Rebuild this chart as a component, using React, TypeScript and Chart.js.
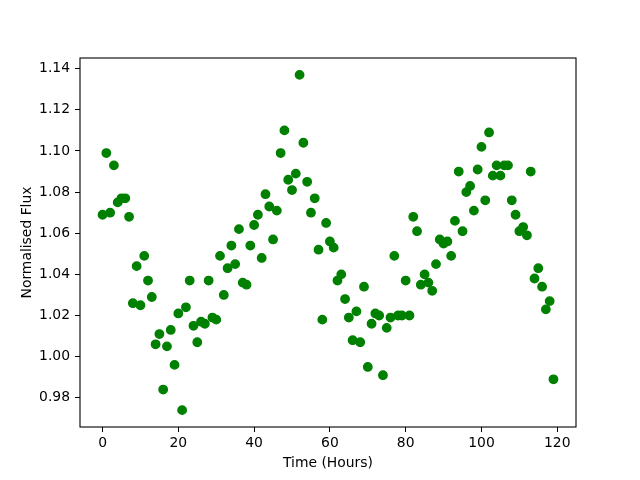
import React, { useEffect, useRef } from "react";
import { Chart, registerables } from "chart.js";

Chart.register(...registerables);

const hours: number[] = Array.from({ length: 120 }, (_, i) => i);
const flux: number[] = [
  1.069, 1.099, 1.070, 1.093, 1.075, 1.077, 1.077, 1.068, 1.026, 1.044,
  1.025, 1.049, 1.037, 1.029, 1.006, 1.011, 0.984, 1.005, 1.013, 0.996,
  1.021, 0.974, 1.024, 1.037, 1.015, 1.007, 1.017, 1.016, 1.037, 1.019,
  1.018, 1.049, 1.030, 1.043, 1.054, 1.045, 1.062, 1.036, 1.035, 1.054,
  1.064, 1.069, 1.048, 1.079, 1.073, 1.057, 1.071, 1.099, 1.110, 1.086,
  1.081, 1.089, 1.137, 1.104, 1.085, 1.070, 1.077, 1.052, 1.018, 1.065,
  1.056, 1.053, 1.037, 1.040, 1.028, 1.019, 1.008, 1.022, 1.007, 1.034,
  0.995, 1.016, 1.021, 1.020, 0.991, 1.014, 1.019, 1.049, 1.020, 1.020,
  1.037, 1.020, 1.068, 1.061, 1.035, 1.040, 1.036, 1.032, 1.045, 1.057,
  1.055, 1.056, 1.049, 1.066, 1.090, 1.061, 1.080, 1.083, 1.071, 1.091,
  1.102, 1.076, 1.109, 1.088, 1.093, 1.088, 1.093, 1.093, 1.076, 1.069,
  1.061, 1.063, 1.059, 1.090, 1.038, 1.043, 1.034, 1.023, 1.027, 0.989,
];
const xTicks: number[] = [0, 20, 40, 60, 80, 100, 120];
const yTicks: number[] = [0.98, 1.0, 1.02, 1.04, 1.06, 1.08, 1.1, 1.12, 1.14];
const xLabel = "Time (Hours)";
const yLabel = "Normalised Flux";

const FONT = { family: "'DejaVu Sans', sans-serif", size: 13.9 };

const boxPlugin = {
  id: "box",
  afterDraw(chart: any) {
    const { ctx, chartArea } = chart;
    ctx.save();
    ctx.strokeStyle = "#000";
    ctx.lineWidth = 1.1;
    ctx.strokeRect(chartArea.left, chartArea.top, chartArea.right - chartArea.left, chartArea.bottom - chartArea.top);
    ctx.restore();
  },
};

export default function App() {
  const ref = useRef<HTMLCanvasElement | null>(null);
  useEffect(() => {
    if (!ref.current) return;
    const chart = new Chart(ref.current, {
      type: "scatter",
      data: {
        datasets: [
          {
            data: hours.map((h, i) => ({ x: h, y: flux[i] })),
            backgroundColor: "#008000",
            borderColor: "#008000",
            pointRadius: 4.2,
            pointBorderWidth: 1.4,
          },
        ],
      },
      options: {
        animation: false,
        responsive: false,
        events: [],
        layout: { padding: { left: 0, top: 58, right: 64, bottom: 0 } },
        plugins: { legend: { display: false }, tooltip: { enabled: false } },
        scales: {
          x: {
            type: "linear",
            min: -5.95,
            max: 124.95,
            afterFit: (s: any) => { s.height = 53; },
            afterBuildTicks: (s: any) => { s.ticks = xTicks.map((v) => ({ value: v })); },
            grid: { display: true, drawOnChartArea: false, drawTicks: true, tickLength: 5, color: "#000", lineWidth: 1 },
            border: { display: false },
            ticks: { color: "#000", font: FONT, padding: 3, maxRotation: 0, callback: (v: any) => String(v) },
            title: { display: true, text: xLabel, color: "#000", font: FONT, padding: { top: 0, bottom: 8 } },
          },
          y: {
            type: "linear",
            min: 0.9658,
            max: 1.1452,
            afterFit: (s: any) => { s.width = 80; },
            afterBuildTicks: (s: any) => { s.ticks = yTicks.map((v) => ({ value: v })); },
            grid: { display: true, drawOnChartArea: false, drawTicks: true, tickLength: 5, color: "#000", lineWidth: 1 },
            border: { display: false },
            ticks: { color: "#000", font: FONT, padding: 5, callback: (v: any) => Number(v).toFixed(2) },
            title: { display: true, text: yLabel, color: "#000", font: FONT, padding: { top: 19, bottom: 0 } },
          },
        },
      },
      plugins: [boxPlugin],
    });
    return () => chart.destroy();
  }, []);
  return (
    <div style={{ position: "absolute", left: 0, top: 0, width: 640, height: 480, background: "#fff" }}>
      <canvas ref={ref} width={640} height={480} style={{ display: "block" }} />
    </div>
  );
}
